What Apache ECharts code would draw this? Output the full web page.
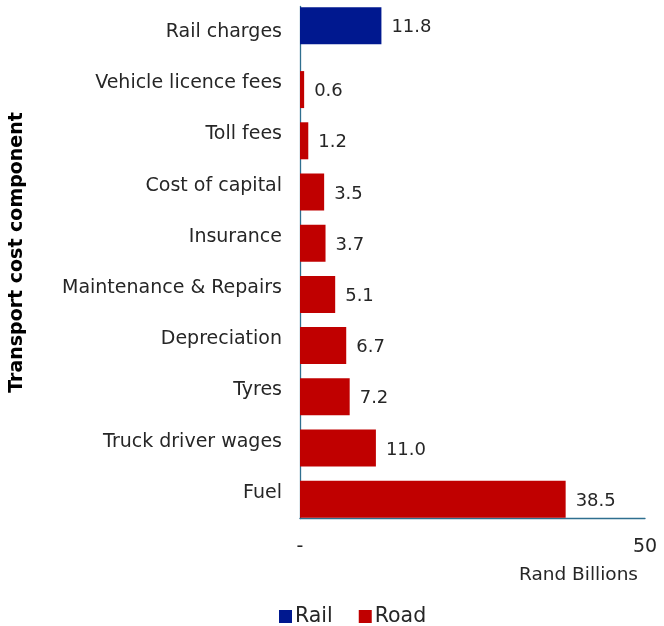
<!DOCTYPE html>
<html><head><meta charset="utf-8">
<script src="https://cdn.jsdelivr.net/npm/echarts@6/dist/echarts.min.js"></script>
<style>html,body{margin:0;padding:0;background:#fff}#c{width:664px;height:626px}</style>
</head><body><div id="c"></div>
<script>
const categories = ["Rail charges","Vehicle licence fees","Toll fees","Cost of capital","Insurance","Maintenance & Repairs","Depreciation","Tyres","Truck driver wages","Fuel"];
const railValues = [11.8,null,null,null,null,null,null,null,null,null];
const roadValues = [null,0.6,1.2,3.5,3.7,5.1,6.7,7.2,11.0,38.5];
const xTicks = {0:"-",50:"50"};
const FONT = "DejaVu Sans";
const chart = echarts.init(document.getElementById('c'));
const lbl = {show:true,position:'right',distance:10,offset:[0,2],color:'#262626',fontFamily:FONT,fontSize:18,
  formatter:p=>p.value==null?'':Number(p.value).toFixed(1)};
chart.setOption({
  animation:false,
  textStyle:{fontFamily:FONT},
  grid:{left:300,right:19,top:6.5,bottom:107.5,containLabel:false},
  legend:{left:274,top:601,itemWidth:13,itemHeight:13,itemGap:26,icon:'rect',
    textStyle:{fontFamily:FONT,fontSize:20.5,color:'#262626',padding:[0,0,0,-2]},data:['Rail','Road']},
  xAxis:{type:'value',min:0,max:50,interval:50,
    axisLine:{show:true,lineStyle:{color:'#2f6f8f',width:1.3}},axisTick:{show:false},splitLine:{show:false},
    axisLabel:{fontFamily:FONT,fontSize:19,color:'#262626',margin:19,
      formatter:v=>xTicks[v]!==undefined?xTicks[v]:''},
    name:'Rand Billions',nameLocation:'end',nameGap:-7,
    nameTextStyle:{fontFamily:FONT,fontSize:18.5,color:'#262626',align:'right',verticalAlign:'top',padding:[47,0,0,0]}},
  yAxis:{type:'category',data:categories,inverse:true,
    axisLine:{show:true,lineStyle:{color:'#2f6f8f',width:1.3}},axisTick:{show:false},
    axisLabel:{fontFamily:FONT,fontSize:19,color:'#262626',margin:18},
    name:'Transport cost component',nameLocation:'middle',nameGap:273,nameRotate:90,
    nameTextStyle:{fontFamily:FONT,fontSize:19,fontWeight:'bold',color:'#000',padding:[0,0,0,20]}},
  series:[
    {name:'Rail',type:'bar',data:railValues,barWidth:37,barGap:'-66%',itemStyle:{color:'#00188f'},label:lbl},
    {name:'Road',type:'bar',data:roadValues,barWidth:37,barGap:'-66%',itemStyle:{color:'#c00000'},label:lbl}
  ]
});
</script></body></html>
